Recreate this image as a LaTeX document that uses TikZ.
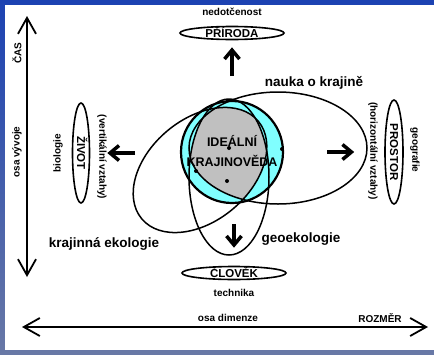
\documentclass[tikz,border=0pt]{standalone}
\usepackage{fontspec}
\setmainfont{Liberation Sans}
\usetikzlibrary{arrows.meta,shapes.geometric}

\definecolor{frameblue}{RGB}{28,66,178}
\definecolor{framegray}{RGB}{104,120,166}
\definecolor{ringcyan}{RGB}{128,255,255}
\definecolor{coregray}{RGB}{192,192,192}

\tikzset{
	pole/.style={draw, ellipse, line width=1.6pt, inner sep=0pt, text height=8pt, text depth=0pt,
		font=\bfseries\fontsize{11.5}{14}\selectfont},
	tag/.style={inner sep=0pt, font=\bfseries\fontsize{10}{12}\selectfont},
	field/.style={inner sep=0pt, font=\bfseries\fontsize{13.5}{16}\selectfont},
	push/.style={line width=3.5pt, -{Straight Barb[length=9pt,width=15pt]}},
	axis/.style={line width=1.8pt, {Straight Barb[length=16pt,width=18pt]}-{Straight Barb[length=16pt,width=18pt]}},
	science/.style={line width=1.5pt},
}

\begin{document}
\begin{tikzpicture}[x=1pt,y=1pt]
	\useasboundingbox (0,0) rectangle (434,-354);
	\shade[top color=frameblue, bottom color=framegray] (0,0) rectangle (434,-354);
	\fill[white] (5,-5) rectangle (434,-350);

	% axes
	\coordinate (casTop)   at ( 27, -16);
	\coordinate (casBot)   at ( 27,-277);
	\coordinate (dimLeft)  at ( 22,-327);
	\coordinate (dimRight) at (428,-327);
	\draw[axis] (casTop) -- (casBot);
	\draw[axis] (dimLeft) -- (dimRight);
	\node[tag, rotate=90] (cas)        at ( 17, -53) {ČAS};
	\node[tag, rotate=90] (osaVyvoje)  at ( 17,-152) {osa vývoje};
	\node[tag]            (osaDimenze) at (228,-318) {osa dimenze};
	\node[tag]            (rozmer)     at (380,-318) {ROZMĚR};

	% core
	\fill[ringcyan] (232,-152) circle (51);
	\begin{scope}
		\clip (278,-148) ellipse [x radius=89, y radius=56];
		\clip (229,-177) ellipse [x radius=40, y radius=78];
		\clip[rotate around={40:(200,-170)}] (200,-170) ellipse [x radius=76, y radius=51];
		\fill[coregray] (180,-95) rectangle (290,-210);
	\end{scope}
	\draw[science] (278,-148) ellipse [x radius=89, y radius=56];
	\draw[science] (229,-177) ellipse [x radius=40, y radius=78];
	\draw[science, rotate around={40:(200,-170)}] (200,-170) ellipse [x radius=76, y radius=51];
	\draw[line width=2.2pt] (232,-152) circle (51);

	\fill (229,-148) coordinate (d1) circle (2);
	\fill (196,-171) coordinate (d2) circle (2);
	\fill (227,-181) coordinate (d3) circle (2);
	\fill (282,-149) coordinate (d4) circle (2);

	\node[field, align=center, font=\bfseries\fontsize{12.5}{20}\selectfont] (ideal) at (232,-151) {IDEÁLNÍ\\KRAJINOVĚDA};

	\node[field] (nauka)    at (314, -83) {nauka o krajině};
	\node[field] (krajEkol) at (104,-244) {krajinná ekologie};
	\node[field] (geoekol)  at (301,-239) {geoekologie};

	% poles
	\node[pole, minimum width=104pt, minimum height=13pt] (priroda) at (232, -33) {PŘÍRODA};
	\node[pole, minimum width=104pt, minimum height=13pt] (clovek)  at (234,-273) {ČLOVĚK};
	\node[pole, rotate=-90, minimum width=100pt, minimum height=17pt] (zivot)   at ( 81,-153) {ŽIVOT};
	\node[pole, rotate=-90, minimum width=104pt, minimum height=18pt] (prostor) at (394,-152) {PROSTOR};

	\node[tag]              (nedotcenost) at (232, -12) {nedotčenost};
	\node[tag]              (technika)    at (234,-293) {technika};
	\node[tag, rotate=90]   (biologie)    at ( 58,-153) {biologie};
	\node[tag, rotate=-90]  (vertikal)    at (102,-157) {(vertikální vztahy)};
	\node[tag, rotate=-90]  (horizontal)  at (373,-151) {(horizontální vztahy)};
	\node[tag, rotate=-90]  (geografie)   at (415,-150) {geografie};

	\coordinate (upFrom)    at (232, -76);
	\coordinate (downFrom)  at (234,-224);
	\coordinate (leftFrom)  at (135,-153);
	\coordinate (rightFrom) at (327,-152);
	\draw[push, shorten >=7pt]  (upFrom)    -- (priroda);
	\draw[push, shorten >=18pt] (downFrom)  -- (clovek);
	\draw[push, shorten >=17pt] (leftFrom)  -- (zivot);
	\draw[push, shorten >=30pt] (rightFrom) -- (prostor);
\end{tikzpicture}
\end{document}
